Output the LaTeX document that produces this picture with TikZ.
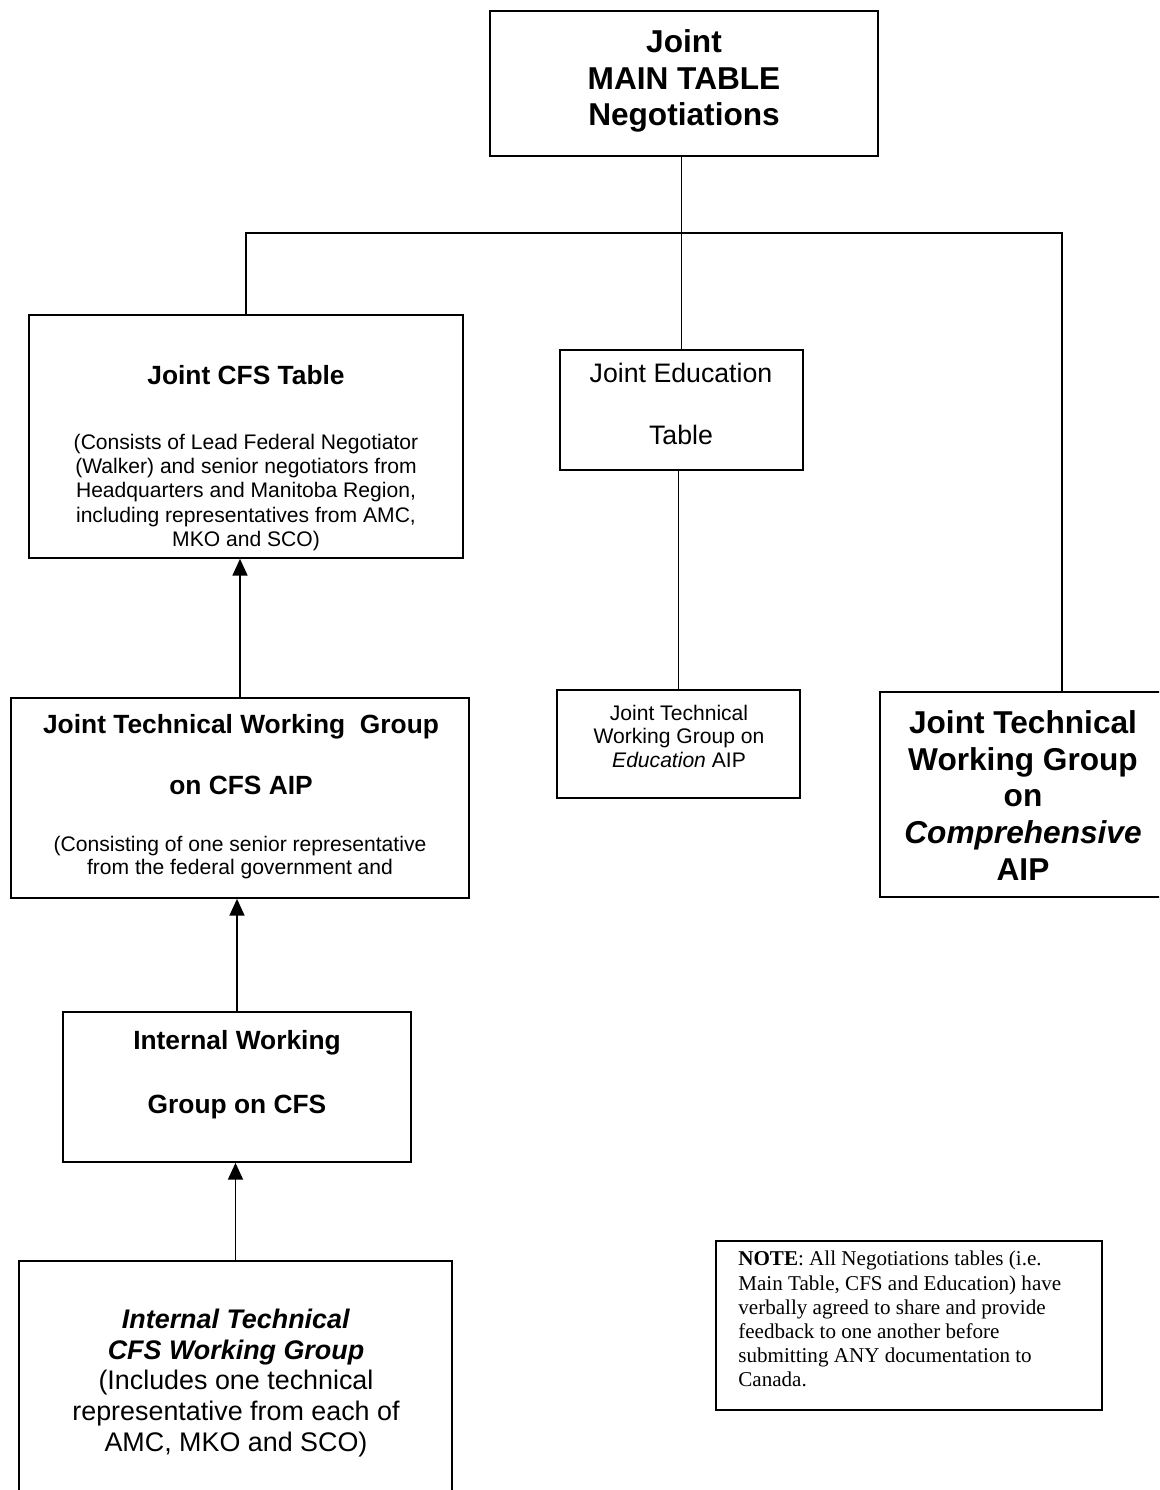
\documentclass[tikz,border=0pt]{standalone}
\usepackage{fontspec}
\setmainfont{Liberation Sans}
\newfontfamily\notefont{Liberation Serif}
\usepackage{tikz}
\usetikzlibrary{arrows.meta,positioning}

\tikzset{
  box/.style={draw, line width=1pt, inner sep=0pt},
  txt/.style={inner sep=0pt, anchor=north, align=center},
  conn/.style={line width=0.9pt},
  arr/.style={line width=0.9pt, -{Triangle[width=8.5pt,length=9.5pt]}}
}

\begin{document}
\begin{tikzpicture}[x=0.02cm, y=-0.02cm]
        \useasboundingbox (0,0) rectangle (1159,1490);
        \clip (0,0) rectangle (1159,1490);
        % boxes
        \node[box, minimum width=7.76cm, minimum height=2.9cm] (main) at (684,83.5) {};
        \node[box, minimum width=8.68cm, minimum height=4.86cm] (cfs) at (246,436.5) {};
        \node[box, minimum width=4.86cm, minimum height=2.4cm] (edu) at (681.5,410) {};
        \node[box, minimum width=9.16cm, minimum height=4cm] (jtwg) at (240,798) {};
        \node[box, minimum width=4.86cm, minimum height=2.16cm] (jedu) at (678.5,744) {};
        \node[box, minimum width=7.28cm, minimum height=4.1cm] (comp) at (1062,794.5) {};
        \node[box, minimum width=6.96cm, minimum height=3cm] (iwg) at (237,1087) {};
        \node[box, minimum width=8.66cm, minimum height=5.98cm] (itwg) at (235.5,1410.5) {};
        \node[box, line width=0.8pt, minimum width=7.72cm, minimum height=3.38cm] (note) at (909,1325.5) {};
        % texts
        \node[txt, font=\fontsize{18}{20.7}\selectfont\bfseries] (maintxt) at (684,29.6) {Joint\\MAIN TABLE\\Negotiations};
        \node[txt, font=\fontsize{15}{18}\selectfont\bfseries] (cfshead) at (246,365.5) {Joint CFS Table};
        \node[txt, font=\fontsize{12}{13.9}\selectfont] (cfsbody) at (246,433.4) {(Consists of Lead Federal Negotiator\\(Walker) and senior negotiators from\\Headquarters and Manitoba Region,\\including representatives from AMC,\\MKO and SCO)};
        \node[txt, font=\fontsize{15.2}{35.1}\selectfont] (edutxt) at (681,363) {Joint Education\\Table};
        \node[txt, font=\fontsize{15}{34.6}\selectfont\bfseries] (jtwghead) at (241,714.5) {Joint Technical Working~ Group\\on CFS AIP};
        \node[txt, font=\fontsize{12}{13.6}\selectfont] (jtwgbody) at (240,835.4) {(Consisting of one senior representative\\from the federal government and};
        \node[txt, font=\fontsize{12}{13.6}\selectfont] (jedutxt) at (679,704.4) {Joint Technical\\Working Group on\\\textit{Education} AIP};
        \node[txt, font=\fontsize{18}{20.8}\selectfont\bfseries] (comptxt) at (1023,710.6) {Joint Technical\\Working Group\\on\\\textit{Comprehensive}\\AIP};
        \node[txt, font=\fontsize{15}{36.3}\selectfont\bfseries] (iwgtxt) at (237,1030.5) {Internal Working\\Group on CFS};
        \node[txt, font=\fontsize{15.3}{17.4}\selectfont] (itwgtxt) at (236,1309) {\textbf{\textit{Internal Technical}}\\\textbf{\textit{CFS Working Group}}\\(Includes one technical\\representative from each of\\AMC, MKO and SCO)};
        \node[txt, anchor=north west, align=left, font=\notefont\fontsize{12}{13.7}\selectfont] (notetxt) at (738,1251) {\textbf{NOTE}: All Negotiations tables (i.e.\\Main Table, CFS and Education) have\\verbally agreed to share and provide\\feedback to one another before\\submitting ANY documentation to\\Canada.};
        % connectors
        \coordinate (barR) at (1062,233);
        \draw[conn] (edu.north) -- (edu.north |- main.south);
        \draw[conn] (cfs.north) |- (barR) -- (comp.north);
        \draw[conn] (jedu.north) -- (jedu.north |- edu.south);
        \draw[arr] (jtwg.north) -- (jtwg.north |- cfs.south);
        \draw[arr] (iwg.north) -- (iwg.north |- jtwg.south);
        \draw[arr] (itwg.north) -- (itwg.north |- iwg.south);
\end{tikzpicture}
\end{document}
